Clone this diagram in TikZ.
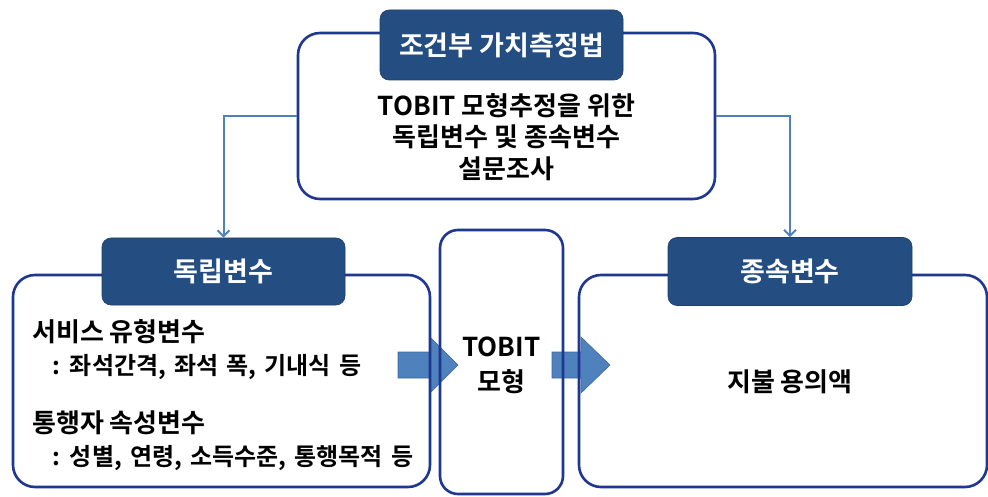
\documentclass[tikz,border=0pt]{standalone}
\usepackage{fontspec}
\setmainfont{Noto Sans CJK KR}[BoldFont={Noto Sans CJK KR Bold}]
\newfontfamily\krsub{Noto Sans CJK KR}[BoldFont={Noto Sans CJK KR Bold},WordSpace=1.5]
\usetikzlibrary{arrows.meta}
\definecolor{boxline}{RGB}{30,55,145}
\definecolor{headfill}{RGB}{36,78,130}
\definecolor{connline}{RGB}{79,129,189}
\definecolor{arrfill}{RGB}{79,129,189}
\definecolor{arrline}{RGB}{60,105,165}
\begin{document}
\begin{tikzpicture}[x=1pt,y=-1pt,
  panel/.style={draw=boxline,line width=2.6pt,rounded corners=22pt,inner sep=0pt},
  header/.style={fill=headfill,draw=headfill!80!black,line width=0.6pt,rounded corners=9pt,text=white,font=\fontsize{27}{30}\selectfont\bfseries,inner sep=0pt},
  conn/.style={draw=connline,line width=2pt,-{Straight Barb[length=6pt,width=12pt,line width=2pt]}},
  blockarrow/.style={fill=arrfill,draw=arrline,line width=0.6pt},
  body/.style={font=\fontsize{26}{31.5}\selectfont\bfseries,align=center,inner sep=0pt},
  sub/.style={font=\krsub\fontsize{24}{26}\selectfont\bfseries,inner sep=0pt,anchor=west}]
\useasboundingbox (0,0) rectangle (988,497);
\fill[white] (0,0) rectangle (988,497);
% block arrows
\path[blockarrow] (398,352) -- (430,352) -- (430,337) -- (458,365) -- (430,393) -- (430,378) -- (398,378) -- cycle;
\path[blockarrow] (552,352) -- (581,352) -- (581,337) -- (610,365) -- (581,393) -- (581,378) -- (552,378) -- cycle;
% panels
\node[panel,minimum width=417pt,minimum height=166pt] (top) at (506.5,116) {};
\node[panel,minimum width=417pt,minimum height=212pt] (left) at (221.5,381) {};
\node[panel,minimum width=408pt,minimum height=212pt] (right) at (783,381) {};
\node[panel,minimum width=123pt,minimum height=264pt,rounded corners=18pt] (mid) at (501.5,362) {};
% headers
\node[header,minimum width=243pt,minimum height=70pt] (thead) at (501.5,45) {조건부 가치측정법};
\node[header,minimum width=243pt,minimum height=67pt] (lhead) at (223.5,271.5) {독립변수};
\node[header,minimum width=244pt,minimum height=68pt] (rhead) at (790,271.5) {종속변수};
% connectors
\draw[conn] (top.west) -| (lhead.north);
\draw[conn] (top.east) -| (rhead.north);
% texts
\node[body] (ttext) at (506.5,137) {TOBIT 모형추정을 위한\\독립변수 및 종속변수\\설문조사};
\node[body,font=\fontsize{26}{35}\selectfont\bfseries] (mtext) at (501.5,365) {TOBIT\\모형};
\node[body] (rtext) at (790,382) {지불 용의액};
\node[body,anchor=west] (l1) at (32,332) {서비스 유형변수};
\node[sub] (l2) at (52,367) {: 좌석간격, 좌석 폭, 기내식 등};
\node[body,anchor=west] (l3) at (32,423) {통행자 속성변수};
\node[sub] (l4) at (52,458) {: 성별, 연령, 소득수준, 통행목적 등};
\end{tikzpicture}
\end{document}
